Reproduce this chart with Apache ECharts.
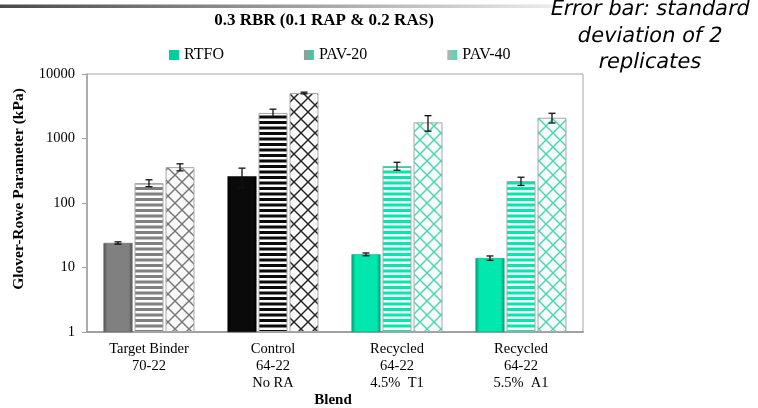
<!DOCTYPE html>
<html>
<head>
<meta charset="utf-8">
<script src="https://cdn.jsdelivr.net/npm/echarts@6/dist/echarts.min.js"></script>
<style>
html,body{margin:0;padding:0;background:#fff;}
#chart{width:758px;height:408px;}
</style>
</head>
<body>
<div id="chart"></div>
<script>
// ---- data ----
const categories = ['Target Binder\n70-22', 'Control\n64-22\nNo RA', 'Recycled\n64-22\n4.5%  T1', 'Recycled\n64-22\n5.5%  A1'];
const seriesNames = ['RTFO', 'PAV-20', 'PAV-40'];
const rtfo   = [24, 260, 16, 14];
const pav20  = [204, 2490, 375, 219];
const pav40  = [360, 5080, 1780, 2100];
const rtfoSD  = [1, 87, 0.8, 1.1];
const pav20SD = [25, 360, 53, 32];
const pav40SD = [45, 150, 480, 360];
const yTicks = [1, 10, 100, 1000, 10000];
const titleText = '0.3 RBR (0.1 RAP & 0.2 RAS)';
const noteLines = ['Error bar: standard', 'deviation of 2', 'replicates'];
const yName = 'Glover-Rowe Parameter (kPa)';
const xName = 'Blend';

// ---- styling helpers ----
const SERIF = '"Liberation Serif", "Times New Roman", serif';
const catColor = ['#808080', '#0a0a0a', '#00E8AE', '#00E8AE'];
const catEdge  = ['#555555', '#000000', '#009e78', '#009e78'];
const crossColor = ['#777777', '#222222', '#45d9b2', '#45d9b2'];

function solid(i) {
  return {
    type: 'linear', x: 0, y: 0, x2: 1, y2: 0,
    colorStops: [
      {offset: 0, color: catEdge[i]},
      {offset: 0.14, color: catColor[i]},
      {offset: 0.86, color: catColor[i]},
      {offset: 1, color: catEdge[i]}
    ]
  };
}
function stripes(i) {
  const c = document.createElement('canvas');
  c.width = 4; c.height = 11;
  const g = c.getContext('2d');
  g.fillStyle = '#fbfbfb'; g.fillRect(0, 0, 4, 11);
  g.fillStyle = catColor[i];
  g.fillRect(0, 0, 4, 3);
  g.fillRect(0, 5.5, 4, 3);
  return {image: c, repeat: 'repeat'};
}
function cross(i) {
  const n = 14;
  const c = document.createElement('canvas');
  c.width = n; c.height = n;
  const g = c.getContext('2d');
  g.fillStyle = '#f8f8f8'; g.fillRect(0, 0, n, n);
  g.strokeStyle = crossColor[i]; g.lineWidth = 1.4;
  for (const o of [-n, 0, n]) {
    g.beginPath(); g.moveTo(o, 0); g.lineTo(o + n, n); g.stroke();
    g.beginPath(); g.moveTo(o + n, 0); g.lineTo(o, n); g.stroke();
  }
  return {image: c, repeat: 'repeat'};
}

const BAR_W = 29, GAP = 2, OFFSET = BAR_W + GAP;

function barSeries(name, values, fillFn, legendColor, bordered) {
  return {
    name: name, type: 'bar', barWidth: BAR_W, barGap: (GAP / BAR_W * 100).toFixed(1) + '%',
    barCategoryGap: '26%',
    itemStyle: {color: legendColor},
    data: values.map((v, i) => ({
      value: v,
      itemStyle: {color: fillFn(i), borderColor: bordered ? '#a8a8a8' : catEdge[i], borderWidth: bordered ? 1 : 0.5}
    }))
  };
}

const errData = [];
[[rtfo, rtfoSD], [pav20, pav20SD], [pav40, pav40SD]].forEach(([vals, sds], s) => {
  vals.forEach((v, i) => errData.push([i, s, v - sds[i], v + sds[i]]));
});

const noteText = (t, y) => ({
  type: 'text', x: 650, y: y, skewX: -0.2,
  style: {text: t, fontFamily: '"DejaVu Sans"', fontSize: 21, fill: '#000', textAlign: 'center', textVerticalAlign: 'middle'}
});

const chart = echarts.init(document.getElementById('chart'), null, {renderer: 'canvas'});
chart.setOption({
  animation: false,
  grid: {left: 87, right: 175, top: 74, bottom: 76, show: true, borderColor: '#a6a6a6', borderWidth: 1},
  legend: {
    data: seriesNames, left: 169, top: 47, padding: 0, icon: 'rect', itemWidth: 10, itemHeight: 10, itemGap: 80,
    textStyle: {fontFamily: SERIF, fontSize: 16, color: '#000'}
  },
  xAxis: {
    type: 'category', data: categories,
    axisTick: {show: false},
    axisLine: {lineStyle: {color: '#a0a0a0', width: 2}},
    axisLabel: {fontFamily: SERIF, fontSize: 14.5, color: '#000', lineHeight: 17, margin: 9, interval: 0}
  },
  yAxis: {
    type: 'log', logBase: 10, min: yTicks[0], max: yTicks[yTicks.length - 1],
    axisLine: {show: true, lineStyle: {color: '#a0a0a0', width: 1.5}},
    axisTick: {show: true, length: 5, lineStyle: {color: '#a0a0a0'}},
    splitLine: {show: false},
    axisLabel: {fontFamily: SERIF, fontSize: 14.5, color: '#000', margin: 12,
      formatter: v => String(Math.round(v))}
  },
  series: [
    barSeries('RTFO', rtfo, solid, '#00cf9c', false),
    barSeries('PAV-20', pav20, stripes, {type: 'linear', x: 0, y: 0, x2: 1, y2: 0, colorStops: [{offset: 0, color: '#9a9a9a'}, {offset: 1, color: '#30d2a6'}]}, true),
    barSeries('PAV-40', pav40, cross, {type: 'linear', x: 0, y: 0, x2: 1, y2: 0, colorStops: [{offset: 0, color: '#b4b4b4'}, {offset: 1, color: '#4fd8b4'}]}, true),
    {
      type: 'custom', name: 'err', z: 5,
      encode: {x: 0, y: [2, 3]},
      data: errData,
      renderItem: function (params, api) {
        const cat = api.value(0), s = api.value(1);
        const lo = api.coord([cat, api.value(2)]);
        const hi = api.coord([cat, api.value(3)]);
        const x = lo[0] + (s - 1) * OFFSET;
        const st = {stroke: '#111', lineWidth: 1.3};
        return {
          type: 'group',
          children: [
            {type: 'line', shape: {x1: x, y1: lo[1], x2: x, y2: hi[1]}, style: st},
            {type: 'line', shape: {x1: x - 3.5, y1: lo[1], x2: x + 3.5, y2: lo[1]}, style: st},
            {type: 'line', shape: {x1: x - 3.5, y1: hi[1], x2: x + 3.5, y2: hi[1]}, style: st}
          ]
        };
      }
    }
  ],
  graphic: [
    {type: 'rect', left: 0, top: 4.5, shape: {width: 555, height: 3.5},
      style: {fill: {type: 'linear', x: 0, y: 0, x2: 1, y2: 0, colorStops: [{offset: 0, color: '#4a4a4a'}, {offset: 1, color: '#ebebeb'}]}}},
    {type: 'text', x: 324, y: 21, style: {text: titleText, font: 'bold 17px ' + SERIF, fill: '#000', textAlign: 'center', textVerticalAlign: 'middle'}},
    noteText(noteLines[0], 9.5),
    noteText(noteLines[1], 36.5),
    noteText(noteLines[2], 63),
    {type: 'text', x: 19, y: 189, rotation: Math.PI / 2, style: {text: yName, font: 'bold 15.5px ' + SERIF, fill: '#000', textAlign: 'center', textVerticalAlign: 'middle'}},
    {type: 'text', x: 333, y: 400, style: {text: xName, font: 'bold 15px ' + SERIF, fill: '#000', textAlign: 'center', textVerticalAlign: 'middle'}}
  ]
});
</script>
</body>
</html>
